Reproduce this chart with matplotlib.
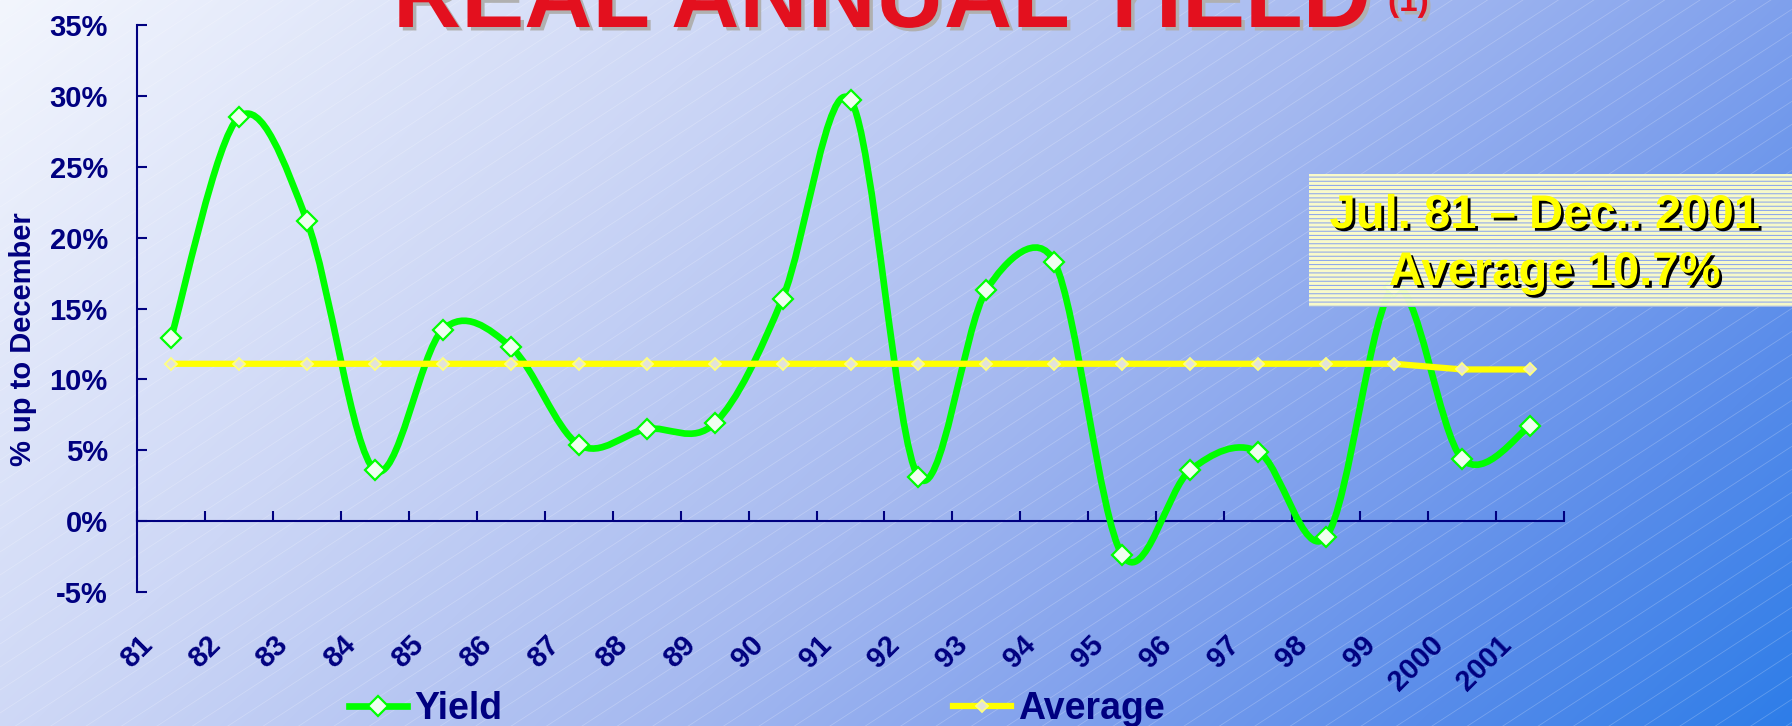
import numpy as np
import matplotlib
matplotlib.use("Agg")
import matplotlib.pyplot as plt
from matplotlib.path import Path
from matplotlib.patches import PathPatch, Rectangle
from matplotlib.lines import Line2D
from matplotlib.collections import LineCollection
import matplotlib.patheffects as pe
from matplotlib import transforms

plt.rcParams['font.family'] = ['Liberation Sans', 'DejaVu Sans']
plt.rcParams['font.weight'] = 'bold'
plt.rcParams['hatch.linewidth'] = 0.7

# data (% real yield up to December)
years = ['81', '82', '83', '84', '85', '86', '87', '88', '89', '90', '91',
         '92', '93', '94', '95', '96', '97', '98', '99', '2000', '2001']
yield_pct = [12.9, 28.5, 21.2, 3.6, 13.5, 12.3, 5.4, 6.5, 6.9, 15.7, 29.7,
             3.1, 16.3, 18.3, -2.4, 3.6, 4.9, -1.1, 16.5, 4.4, 6.7]
average_pct = [11.1, 11.1, 11.1, 11.1, 11.1, 11.1, 11.1, 11.1, 11.1, 11.1, 11.1,
               11.1, 11.1, 11.1, 11.1, 11.1, 11.1, 11.1, 11.1, 10.7, 10.7]
yticks = [-5, 0, 5, 10, 15, 20, 25, 30, 35]

W, H = 1792, 726
navy = '#000080'
green = '#00ff00'
yellow = '#ffff00'

fig = plt.figure(figsize=(W / 100, H / 100), dpi=100)

# background: diagonal gradient + faint white hatch
bg = fig.add_axes([0, 0, 1, 1], zorder=-10)
bg.set_axis_off()
xx, yy = np.meshgrid(np.arange(W), np.arange(H))
t = (xx + yy) / (W + H)
stops = [0, 0.3, 0.55, 0.7, 0.85, 1.0]
cols = np.array([(243, 246, 253), (205, 215, 246), (165, 185, 240),
                 (130, 162, 237), (88, 140, 234), (45, 125, 232)]) / 255
img = np.stack([np.interp(t, stops, cols[:, k]) for k in range(3)], axis=-1)
bg.imshow(img, extent=(0, W, H, 0), aspect='auto')
slope = np.tan(np.radians(33))
segs = [[(0, c), (W, c - W * slope)] for c in np.arange(0, H + W * slope, 23)]
bg.add_collection(LineCollection(segs, colors='white', alpha=0.22, linewidths=0.6))
bg.set_xlim(0, W)
bg.set_ylim(H, 0)

# main plot area
ax_box = [137 / W, 1 - 592 / H, (1564 - 137) / W, 567 / H]
ax = fig.add_axes(ax_box)
ax.set_facecolor('none')
x = np.arange(len(years))
ax.set_xlim(-0.5, len(years) - 0.5)
ax.set_ylim(-5, 35)


def smooth_path(xs, ys, sx, sy):
    # Excel-style smoothed line: bezier through the points, control arms
    # limited to half the segment length (worked out in screen units)
    pts = np.column_stack([np.asarray(xs) * sx, np.asarray(ys) * sy]).astype(float)
    n = len(pts)
    verts = [pts[0]]
    codes = [Path.MOVETO]
    for i in range(n - 1):
        p0 = pts[max(i - 1, 0)]
        p1 = pts[i]
        p2 = pts[i + 1]
        p3 = pts[min(i + 2, n - 1)]
        d12 = np.hypot(*(p2 - p1))
        d02 = np.hypot(*(p2 - p0))
        d13 = np.hypot(*(p3 - p1))
        f1 = 1 / 6 if d02 / 6 <= d12 / 2 else d12 / 2 / d02
        f2 = 1 / 6 if d13 / 6 <= d12 / 2 else d12 / 2 / d13
        verts += [p1 + (p2 - p0) * f1, p2 - (p3 - p1) * f2, p2]
        codes += [Path.CURVE4] * 3
    verts = np.array(verts) / [sx, sy]
    return Path(verts, codes)


sx = W * ax_box[2] / len(years)
sy = H * ax_box[3] / 40
ax.add_patch(PathPatch(smooth_path(x, yield_pct, sx, sy), fc='none', ec=green,
                       lw=4.8, capstyle='round', joinstyle='round', zorder=3))
ax.plot(x, yield_pct, ls='none', marker='D', ms=10.5, mfc='#f0fff0', mec=green,
        mew=1.6, zorder=4)
ax.plot(x, average_pct, color=yellow, lw=4.5, marker='D', ms=6.5, mfc='#e2e2da',
        mec='#ffff80', mew=1.3, zorder=5)

for s in ['top', 'right']:
    ax.spines[s].set_visible(False)
for s in ['left', 'bottom']:
    ax.spines[s].set_color(navy)
    ax.spines[s].set_linewidth(1.5)
ax.spines['bottom'].set_position(('data', 0))

ax.set_xticks(np.arange(-0.5, len(years)))
ax.tick_params(axis='x', direction='in', length=7, width=1.5, color=navy,
               labelbottom=False)
ax.set_yticks(yticks)
ax.set_yticklabels([f'{v}%' for v in yticks])
ax.tick_params(axis='y', direction='in', length=7, width=1.5, color=navy,
               labelcolor=navy, labelsize=21, pad=21)

trans = transforms.blended_transform_factory(ax.transData, ax.transAxes)
for i, lab in enumerate(years):
    ax.text(i - 0.34, -0.085, lab, transform=trans, rotation=45,
            rotation_mode='anchor', ha='right', va='center', fontsize=21,
            color=navy, clip_on=False)

fig.text(23 / W, 1 - 339 / H, '% up to December', rotation=90, ha='center',
         va='center', fontsize=21, color=navy)

# title (runs off the top edge as in the original)
shadow = [pe.SimplePatchShadow(offset=(2.5, -2.5), shadow_rgbFace='#b0b0b0', alpha=1),
          pe.Normal()]
fig.text(393 / W, 1 - 27 / H, 'REAL ANNUAL YIELD', fontsize=68, color='#e3101e',
         ha='left', va='baseline', path_effects=shadow)
fig.text(1388 / W, 1 - 11 / H, '(1)', fontsize=24, color='#e3101e',
         ha='left', va='baseline', path_effects=shadow)

# note box
fig.add_artist(Rectangle((1309 / W, 1 - 307 / H), 1 - 1309 / W + 0.01, 133 / H,
                         transform=fig.transFigure, facecolor='#ffffc8',
                         edgecolor='#7f9cf0', hatch='----', lw=0, alpha=0.95,
                         zorder=6))
box_shadow = [pe.SimplePatchShadow(offset=(2, -2), shadow_rgbFace='black', alpha=1),
              pe.Normal()]
fig.text(1545 / W, 1 - 228 / H, 'Jul. 81 \u2013 Dec.. 2001', fontsize=34,
         color=yellow, ha='center', va='baseline', path_effects=box_shadow, zorder=7)
fig.text(1555 / W, 1 - 285 / H, 'Average 10.7%', fontsize=34,
         color=yellow, ha='center', va='baseline', path_effects=box_shadow, zorder=7)

# legend
handles = [Line2D([], [], color=green, lw=4.8, marker='D', ms=10.5, mfc='#f0fff0',
                  mec=green, mew=1.6),
           Line2D([], [], color=yellow, lw=4.5, marker='D', ms=6.5, mfc='#e2e2da',
                  mec='#ffff80', mew=1.3)]
fig.legend(handles, ['Yield', 'Average'], loc='center left',
           bbox_to_anchor=(349 / W, 1 - 709 / H), ncol=2, frameon=False,
           prop={'size': 27, 'weight': 'bold'}, labelcolor=navy,
           handlelength=1.55, handletextpad=0.2, columnspacing=12.0,
           borderpad=0, borderaxespad=0)

fig.savefig('out.png', dpi=100)
